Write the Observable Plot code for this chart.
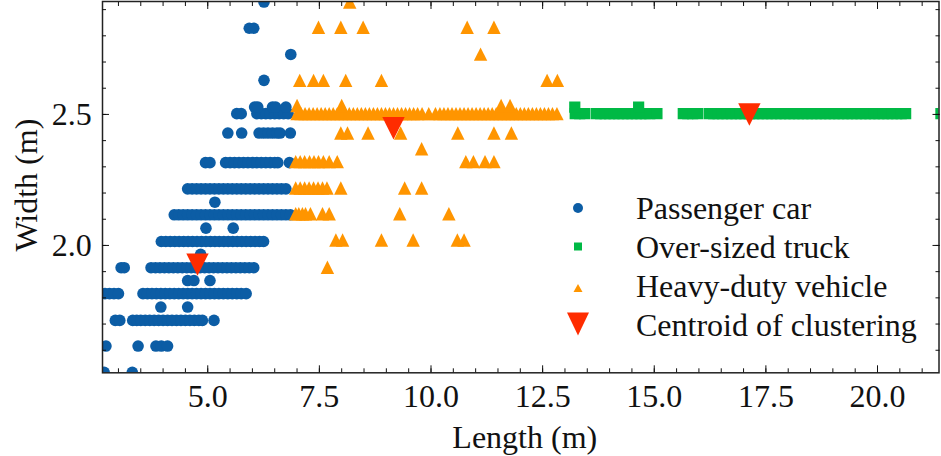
<!DOCTYPE html>
<html><head><meta charset="utf-8">
<script src="https://cdn.jsdelivr.net/npm/d3@7"></script>
<script src="https://cdn.jsdelivr.net/npm/@observablehq/plot@0.6"></script>
<style>
html,body{margin:0;padding:0;background:#fff;}
#wrap{position:relative;width:941px;height:456px;overflow:hidden;}
#legend{position:absolute;left:0;top:0;pointer-events:none;}
</style></head><body><div id="wrap"></div>
<script>
// ---------- data ----------
const seriesNames = ["Passenger car", "Over-sized truck", "Heavy-duty vehicle", "Centroid of clustering"];
const xLabel = "Length (m)";
const yLabel = "Width (m)";
const xMajor = [5, 7.5, 10, 12.5, 15, 17.5, 20];
const yMajor = [2.0, 2.5];
const xMinor = d3.range(3, 21.01, 0.5);
const yMinor = d3.range(1.6, 2.91, 0.1);

// Passenger car: width rows and the lengths in each row
const carW = [1.516, 1.616, 1.714, 1.765, 1.816, 1.866, 1.915, 1.966, 2.015, 2.066, 2.117, 2.165, 2.216, 2.316, 2.429, 2.503, 2.528, 2.63, 2.729, 2.829, 2.929];
const carL = [
  [2.68, 3.31],
  [2.72, 3.44, 3.84, 3.96, 4.1],
  [2.93, 3.03, 3.32, 3.41, 3.5, 3.6, 3.7, 3.8, 3.9, 4.0, 4.1, 4.2, 4.3, 4.4, 4.5, 4.6, 4.7, 4.8, 4.88, 5.14],
  [3.95, 4.55],
  [2.7, 2.8, 2.9, 3.0, 3.55, 3.65, 3.75, 3.85, 3.95, 4.05, 4.15, 4.25, 4.35, 4.45, 4.55, 4.65, 4.75, 4.85, 4.95, 5.05, 5.15, 5.25, 5.35, 5.45, 5.55, 5.65, 5.75, 5.86],
  [4.55, 4.69, 5.05],
  [3.06, 3.13, 3.73, 3.83, 3.93, 4.03, 4.13, 4.23, 4.33, 4.43, 4.53, 4.63, 4.73, 4.83, 4.93, 5.03, 5.13, 5.23, 5.33, 5.43, 5.53, 5.63, 5.73, 5.83, 5.93, 6.03],
  [4.84],
  [3.96, 4.06, 4.16, 4.26, 4.36, 4.46, 4.56, 4.66, 4.76, 4.86, 4.96, 5.06, 5.16, 5.26, 5.36, 5.46, 5.56, 5.66, 5.76, 5.86, 5.96, 6.06, 6.16, 6.25],
  [4.96, 5.57],
  [4.25, 4.35, 4.45, 4.55, 4.65, 4.75, 4.85, 4.95, 5.05, 5.15, 5.25, 5.35, 5.45, 5.55, 5.65, 5.75, 5.85, 5.95, 6.05, 6.15, 6.25, 6.35, 6.45, 6.55, 6.65, 6.75, 6.85],
  [5.16],
  [4.55, 4.65, 4.75, 4.85, 4.95, 5.05, 5.15, 5.25, 5.35, 5.45, 5.55, 5.65, 5.75, 5.85, 5.95, 6.05, 6.15, 6.25, 6.35, 6.45, 6.55, 6.65, 6.75],
  [4.95, 5.05, 5.4, 5.5, 5.6, 5.7, 5.8, 5.9, 6.0, 6.1, 6.2, 6.3, 6.4, 6.5, 6.57, 6.83],
  [5.45, 5.76, 6.15, 6.25, 6.35, 6.45, 6.55, 6.62, 6.85],
  [5.65, 5.75, 6.1, 6.2, 6.3, 6.4, 6.5, 6.6, 6.7, 6.8],
  [6.05, 6.12, 6.45, 6.52, 6.75],
  [6.26],
  [6.86],
  [5.93, 6.03],
  [6.26]
];

// Over-sized truck
const truckW = [2.503, 2.528];
const truckL = [
  [13.23, 13.33, 13.44, 13.7, 13.8, 13.9, 14.0, 14.1, 14.2, 14.3, 14.4, 14.5, 14.6, 14.7, 14.8, 14.9, 15.06,
   15.65, 15.75, 15.86, 15.97, 16.23, 16.33, 16.43, 16.53, 16.63, 16.73, 16.83, 16.93, 17.03, 17.13, 17.23, 17.33, 17.43,
   17.53, 17.63, 17.73, 17.83, 17.93, 18.03, 18.13, 18.23, 18.33, 18.43, 18.53, 18.63, 18.73, 18.83, 18.93, 19.03,
   19.13, 19.23, 19.33, 19.43, 19.53, 19.63, 19.73, 19.83, 19.93, 20.03, 20.13, 20.23, 20.33, 20.43, 20.53, 20.63, 21.42],
  [13.22, 14.65]
];

// Heavy-duty vehicle
const heavyW = [1.917, 2.021, 2.121, 2.219, 2.32, 2.369, 2.429, 2.503, 2.534, 2.63, 2.73, 2.833, 2.929];
const heavyL = [
  [7.68],
  [7.87, 8.02, 8.89, 9.6, 10.59, 10.74],
  [6.97, 7.04, 7.12, 7.19, 7.3, 7.57, 7.72, 9.3, 10.4],
  [6.97, 7.07, 7.17, 7.27, 7.37, 7.47, 7.57, 7.67, 7.98, 9.41, 9.79],
  [6.97, 7.07, 7.17, 7.28, 7.38, 7.48, 7.59, 7.72, 7.9, 10.78, 10.95, 11.21, 11.41],
  [9.79],
  [7.98, 8.13, 8.59, 9.32, 10.6, 11.41, 11.8],
  [7.0, 7.09, 7.18, 7.27, 7.36, 7.45, 7.54, 7.63, 7.72, 7.81, 7.9, 7.99, 8.08, 8.17, 8.26, 8.35, 8.44, 8.53, 8.62, 8.71,
   8.8, 8.89, 8.98, 9.07, 9.16, 9.25, 9.34, 9.43, 9.52, 9.61, 9.7, 9.8, 9.95, 10.1, 10.2, 10.29, 10.38, 10.47, 10.56,
   10.65, 10.74, 10.83, 10.92, 11.01, 11.1, 11.19, 11.28, 11.37, 11.46, 11.55, 11.64, 11.73, 11.82, 11.91, 12.0, 12.09,
   12.18, 12.27, 12.36, 12.45, 12.54, 12.63, 12.72, 12.82],
  [7.0, 8.0, 11.57, 11.77],
  [7.06, 7.37, 7.59, 8.09, 8.89, 12.6, 12.83],
  [11.11],
  [7.48, 7.98, 8.48, 10.81, 11.41],
  [8.18]
];

// Centroids of clustering
const centroidL = [4.77, 9.16, 17.13];
const centroidW = [1.927, 2.447, 2.50];

// ---------- styling ----------
const FONT = "'Liberation Serif', 'Times New Roman', Times, serif";
const FS = 32;
const C_BLUE = "#0C5DA5", C_GREEN = "#00B945", C_ORANGE = "#FF9500", C_RED = "#FF2C00";

const rows = (W, L) => W.flatMap((w, i) => L[i].map(l => ({length: l, width: w})));
const cars = rows(carW, carL);
const trucks = rows(truckW, truckL);
const heavy = rows(heavyW, heavyL);
const centroids = centroidL.map((l, i) => ({length: l, width: centroidW[i]}));

// matplotlib-like markers (bbox centred)
const rad = s => Math.sqrt(s / Math.PI);
const triUp = {draw(c, s) { const r = rad(s); c.moveTo(0, -r); c.lineTo(r, r); c.lineTo(-r, r); c.closePath(); }};
const triDown = {draw(c, s) { const r = rad(s); c.moveTo(0, r); c.lineTo(r, -r); c.lineTo(-r, -r); c.closePath(); }};
const sq = {draw(c, s) { const r = rad(s); c.rect(-r, -r, 2 * r, 2 * r); }};

const chart = Plot.plot({
  width: 941, height: 456,
  marginLeft: 102, marginRight: 2.5, marginTop: 1, marginBottom: 83.7,
  style: {fontFamily: FONT, fontSize: FS + "px", color: "#111", background: "#fff", overflow: "visible"},
  x: {domain: [2.643, 21.377]},
  y: {domain: [1.514, 2.931]},
  marks: [
    Plot.dot(cars, {x: "length", y: "width", r: 5.8, fill: C_BLUE, clip: true}),
    Plot.dot(trucks, {x: "length", y: "width", r: 5.6, symbol: sq, fill: C_GREEN, clip: true}),
    Plot.dot(heavy, {x: "length", y: "width", r: 6.7, symbol: triUp, fill: C_ORANGE, clip: true}),
    Plot.dot(centroids, {x: "length", y: "width", r: 11.2, symbol: triDown, fill: C_RED}),
    Plot.frame({stroke: "#222", strokeWidth: 1.5}),
    Plot.axisX(xMinor, {anchor: "bottom", tickSize: -4, fill: "none", label: null}),
    Plot.axisX(xMajor, {anchor: "bottom", tickSize: -7, tickPadding: 18, tickFormat: d3.format(".1f"), label: null, fontSize: FS}),
    Plot.axisX(xMinor, {anchor: "top", tickSize: -4, fill: "none", label: null}),
    Plot.axisX(xMajor, {anchor: "top", tickSize: -7, fill: "none", label: null}),
    Plot.axisY(yMinor, {anchor: "left", tickSize: -4, fill: "none", label: null}),
    Plot.axisY(yMajor, {anchor: "left", tickSize: -7, tickPadding: 17.7, tickFormat: d3.format(".1f"), label: null, fontSize: FS}),
    Plot.axisY(yMinor, {anchor: "right", tickSize: -4, fill: "none", label: null}),
    Plot.axisY(yMajor, {anchor: "right", tickSize: -7, fill: "none", label: null}),
    Plot.text([xLabel], {text: d => d, frameAnchor: "bottom", dx: 4, dy: 75, textAnchor: "middle", lineAnchor: "bottom", fontSize: FS, fill: "#111"}),
    Plot.text([yLabel], {text: d => d, frameAnchor: "left", dx: -66, dy: -2, rotate: -90, textAnchor: "middle", lineAnchor: "bottom", fontSize: FS, fill: "#111"})
  ]
});
const wrap = document.getElementById("wrap");
wrap.appendChild(chart);

// ---------- legend (inside the axes) ----------
const legendColors = [C_BLUE, C_GREEN, C_ORANGE, C_RED];
const legendSymbols = [
  d3.symbol(d3.symbolCircle, Math.PI * 5 * 5)(),
  "M-4,-4h8v8h-8z",
  "M0,-4L4.5,4L-4.5,4Z",
  "M-11,-11.5L11,-11.5L0,11.5Z"
];
const legendSymY = [208, 246.5, 288, 324];
const legendBase = [219.3, 258.3, 296.8, 336];
const lg = d3.select(wrap).append("svg").attr("id", "legend").attr("width", 941).attr("height", 456);
seriesNames.forEach((name, i) => {
  lg.append("path").attr("d", legendSymbols[i]).attr("fill", legendColors[i])
    .attr("transform", `translate(578,${legendSymY[i]})`);
  lg.append("text").attr("x", 636).attr("y", legendBase[i]).attr("font-family", FONT)
    .attr("font-size", FS).attr("fill", "#111").text(name);
});
</script></body></html>
